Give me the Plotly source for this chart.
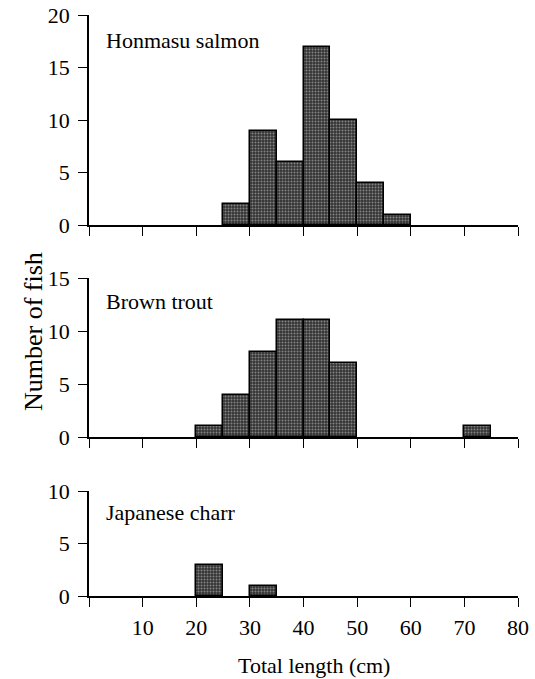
import plotly.graph_objects as go

bin_starts = [20, 25, 30, 35, 40, 45, 50, 55, 70]
honmasu = [0, 2, 9, 6, 17, 10, 4, 1, 0]
brown = [1, 4, 8, 11, 11, 7, 0, 0, 1]
charr = [3, 0, 1, 0, 0, 0, 0, 0, 0]
bin_width = 5
panel_names = ["Honmasu salmon", "Brown trout", "Japanese charr"]
y_max = [20, 15, 10]
x_ticks = [0, 10, 20, 30, 40, 50, 60, 70, 80]

FONT = "Liberation Serif"
W, H = 535, 679
L, R, T, B = 89, 17, 15, 83
PW, PH = W - L - R, H - T - B


def px_x(p):
    return (p - L) / PW


def px_y(p):
    return (H - B - p) / PH


fig = go.Figure()
series = [honmasu, brown, charr]
for i, vals in enumerate(series):
    sx = "" if i == 0 else str(i + 1)
    xs = [s for s, v in zip(bin_starts, vals) if v > 0]
    ys = [v for v in vals if v > 0]
    fig.add_trace(go.Bar(
        x=xs, y=ys, width=bin_width, offset=0,
        xaxis="x" + sx, yaxis="y" + sx,
        marker=dict(color="#333333",
                    line=dict(color="black", width=1.5),
                    pattern=dict(shape=".", fgcolor="#d6d6d6", bgcolor="#333333",
                                 size=3, solidity=0.35)),
        showlegend=False,
    ))

domains = [[px_y(225), 1.0], [px_y(437), px_y(278)], [0.0, px_y(491)]]
axis_common = dict(showline=True, linecolor="black", linewidth=1.5,
                   ticks="outside", ticklen=9, tickwidth=1.3, tickcolor="black",
                   showgrid=False, zeroline=False, automargin=False,
                   tickfont=dict(family=FONT, size=22, color="black"))

layout = dict(
    width=W, height=H,
    margin=dict(l=L, r=R, t=T, b=B, autoexpand=False),
    paper_bgcolor="white", plot_bgcolor="white",
    bargap=0,
    font=dict(family=FONT, color="black"),
)
for i in range(3):
    sx = "" if i == 0 else str(i + 1)
    layout["xaxis" + sx] = dict(axis_common, range=[0, 80], tickvals=x_ticks,
                                ticktext=["" if t == 0 else str(t) for t in x_ticks],
                                showticklabels=(i == 2),
                                anchor="y" + sx, domain=[0, 1], ticklabelstandoff=2)
    layout["yaxis" + sx] = dict(axis_common, range=[0, y_max[i]],
                                tickvals=list(range(0, y_max[i] + 1, 5)),
                                domain=domains[i], anchor="x" + sx, ticklabelstandoff=4)

fig.update_layout(**layout)

label_y = [41, 301, 512]
for name, yp in zip(panel_names, label_y):
    fig.add_annotation(text=name, xref="paper", yref="paper",
                       x=px_x(104), y=px_y(yp),
                       xanchor="left", yanchor="middle", showarrow=False,
                       font=dict(family=FONT, size=22, color="black"))

fig.add_annotation(text="Number of fish", textangle=-90, xref="paper", yref="paper",
                   x=px_x(33), y=px_y(332),
                   xanchor="center", yanchor="middle", showarrow=False,
                   font=dict(family=FONT, size=26, color="black"))
fig.add_annotation(text="Total length (cm)", xref="paper", yref="paper",
                   x=px_x(314), y=px_y(665),
                   xanchor="center", yanchor="middle", showarrow=False,
                   font=dict(family=FONT, size=22, color="black"))

fig.write_html("out.html", config={"displayModeBar": False},
               post_script="document.body.style.margin='0';")
